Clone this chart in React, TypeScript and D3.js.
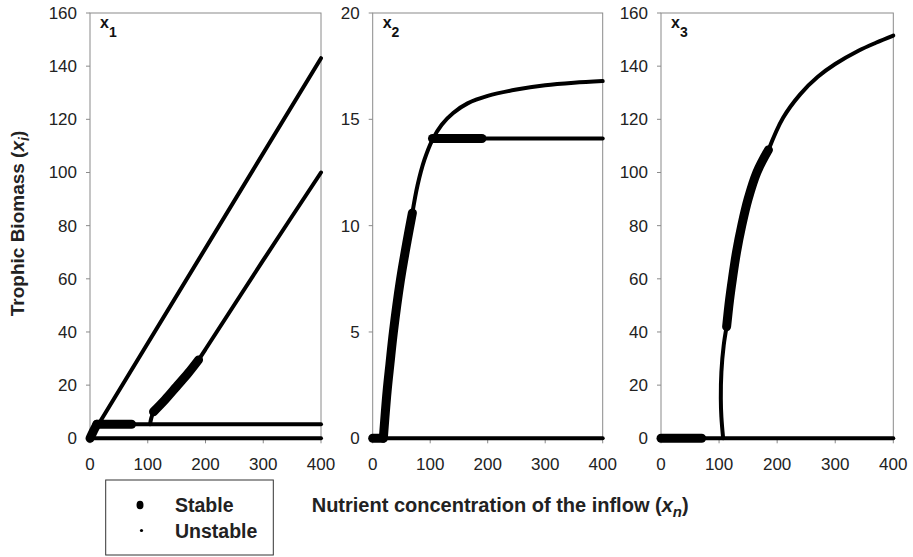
import React from "react";
import * as d3 from "d3";

type Pt = [number, number];

// ---- Data (nutrient concentration xn, biomass) ----
const xnTicks = [0, 100, 200, 300, 400];
const yTicksBig = [0, 20, 40, 60, 80, 100, 120, 140, 160];
const yTicksX2 = [0, 5, 10, 15, 20];

// Panel x1
const x1Zero: Pt[] = [[0, 0], [400, 0]];
const x1OriginStable: Pt[] = [[0, 0], [5, 2.3], [12, 5.3]];
const x1PlateauUnstable: Pt[] = [[8, 5.3], [400, 5.3]];
const x1PlateauStable: Pt[] = [[12, 5.3], [72, 5.3]];
const x1LineA: Pt[] = [[0, 0], [400, 143]];
const x1BranchUnstableLow: Pt[] = [[104, 5.3], [106, 7.5], [110, 10]];
const x1BranchStable: Pt[] = [[110, 10], [130, 14.5], [150, 19.5], [170, 24.5], [188, 29.5]];
const x1BranchUnstableHigh: Pt[] = [[188, 29.5], [200, 33.5], [300, 67], [400, 100]];

// Panel x2
const x2Zero: Pt[] = [[0, 0], [400, 0]];
const x2ZeroStable: Pt[] = [[0, 0], [18, 0]];
const x2CurveStable: Pt[] = [[18.5, 0], [25, 2.2], [30, 3.5], [36, 5], [48, 7.4], [60, 9.3], [69, 10.6]];
const x2CurveUnstable: Pt[] = [[69, 10.6], [78, 11.9], [90, 13.1], [104, 14.05], [120, 14.75], [140, 15.3], [165, 15.75], [200, 16.1], [250, 16.4], [300, 16.6], [350, 16.72], [400, 16.8]];
const x2PlateauStable: Pt[] = [[104, 14.1], [190, 14.1]];
const x2PlateauUnstable: Pt[] = [[190, 14.1], [400, 14.1]];

// Panel x3
const x3Zero: Pt[] = [[0, 0], [400, 0]];
const x3ZeroStable: Pt[] = [[0, 0], [70, 0]];
const x3CurveUnstableLow: Pt[] = [[107, 0], [104, 8], [103, 15], [104, 25], [108, 35], [113, 42]];
const x3CurveStable: Pt[] = [[113, 42], [118, 52], [123, 60], [130, 70], [139, 80], [150, 90], [165, 100], [185, 108.5]];
const x3CurveUnstableHigh: Pt[] = [[185, 108.5], [210, 120.5], [240, 129.5], [270, 136], [300, 140.8], [340, 145.8], [370, 148.8], [400, 151.5]];

const panels = [
  {
    label: "1", left: 90, right: 321, yMax: 160, yTicks: yTicksBig,
    stable: [x1OriginStable, x1PlateauStable, x1BranchStable],
    unstable: [x1Zero, x1PlateauUnstable, x1LineA, x1BranchUnstableLow, x1BranchUnstableHigh],
  },
  {
    label: "2", left: 372.7, right: 602.7, yMax: 20, yTicks: yTicksX2,
    stable: [x2ZeroStable, x2CurveStable, x2PlateauStable],
    unstable: [x2Zero, x2CurveUnstable, x2PlateauUnstable],
  },
  {
    label: "3", left: 661, right: 893.3, yMax: 160, yTicks: yTicksBig,
    stable: [x3ZeroStable, x3CurveStable],
    unstable: [x3Zero, x3CurveUnstableLow, x3CurveUnstableHigh],
  },
];

const TOP = 13;
const BOTTOM = 438.3;
const AXIS = "#8a8a8a";
const FONT = "'Liberation Sans', Arial, Helvetica, sans-serif";

function Panel({ p }: { p: (typeof panels)[number] }) {
  const x = d3.scaleLinear().domain([0, 400]).range([p.left, p.right]);
  const y = d3.scaleLinear().domain([0, p.yMax]).range([BOTTOM, TOP]);
  const lineX = d3.line<Pt>().x((d) => x(d[0])).y((d) => y(d[1])).curve(d3.curveCatmullRom.alpha(0.5));
  return (
    <g>
      <rect x={p.left} y={TOP} width={p.right - p.left} height={BOTTOM - TOP} fill="none" stroke={AXIS} strokeWidth={1} />
      {p.yTicks.map((t) => (
        <g key={"y" + t}>
          <line x1={p.left - 4} x2={p.left} y1={y(t)} y2={y(t)} stroke={AXIS} />
          <text x={p.left - 13} y={y(t) + 6} textAnchor="end" fontSize={17} fontFamily={FONT} fill="#222">{t}</text>
        </g>
      ))}
      {xnTicks.map((t) => (
        <g key={"x" + t}>
          <line x1={x(t)} x2={x(t)} y1={BOTTOM} y2={BOTTOM + 5} stroke={AXIS} />
          <text x={x(t)} y={470} textAnchor="middle" fontSize={17} fontFamily={FONT} fill="#222">{t}</text>
        </g>
      ))}
      {p.unstable.map((s, i) => (
        <path key={"u" + i} d={lineX(s) || ""} fill="none" stroke="#000" strokeWidth={4} strokeLinecap="round" strokeLinejoin="round" />
      ))}
      {p.stable.map((s, i) => (
        <path key={"s" + i} d={lineX(s) || ""} fill="none" stroke="#000" strokeWidth={9} strokeLinecap="round" strokeLinejoin="round" />
      ))}
      <text x={p.left + 10} y={28} fontSize={16} fontWeight="bold" fontFamily={FONT} fill="#111">
        x<tspan fontSize={14} dy={9}>{p.label}</tspan>
      </text>
    </g>
  );
}

export default function App() {
  return (
    <svg width={913} height={557} style={{ position: "absolute", left: 0, top: 0, background: "#fff" }}>
      <rect width={913} height={557} fill="#fff" />
      {panels.map((p) => (
        <Panel key={p.label} p={p} />
      ))}
      <text transform="translate(24,223.5) rotate(-90)" textAnchor="middle" fontSize={19} fontWeight="bold" fontFamily={FONT} fill="#222">
        Trophic Biomass (<tspan fontStyle="italic">x</tspan><tspan fontStyle="italic" fontSize={14} dy={5}>i</tspan><tspan dy={-5}>)</tspan>
      </text>
      <text x={311.7} y={511.5} fontSize={20} fontWeight="bold" fontFamily={FONT} fill="#222">
        Nutrient concentration of the inflow (<tspan fontStyle="italic">x</tspan><tspan fontStyle="italic" fontSize={15} dy={5}>n</tspan><tspan dy={-5}>)</tspan>
      </text>
      <rect x={105.7} y={480} width={167.6} height={75} fill="none" stroke="#333" strokeWidth={1} />
      <ellipse cx={140} cy={505} rx={3.5} ry={4.3} fill="#000" />
      <circle cx={141.5} cy={530.5} r={1.6} fill="#000" />
      <text x={175} y={511.7} fontSize={19.5} fontWeight="bold" fontFamily={FONT} fill="#222">Stable</text>
      <text x={175} y={537.7} fontSize={19.5} fontWeight="bold" fontFamily={FONT} fill="#222">Unstable</text>
    </svg>
  );
}
